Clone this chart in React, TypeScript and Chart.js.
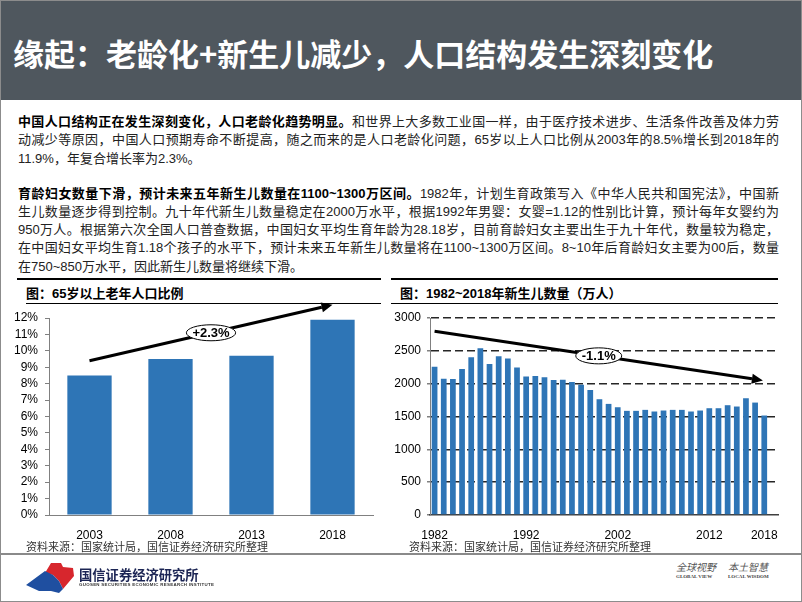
import React, { useEffect, useRef } from 'react';
import { Chart, registerables } from 'chart.js';

Chart.register(...registerables);

// ---------- data ----------
const agedYears = ['2003', '2008', '2013', '2018'];
const agedShare = [8.5, 9.5, 9.7, 11.9];
const agedTrendFrom: [number, number] = [0, 9.4];
const agedTrendTo: [number, number] = [3, 12.8];
const agedTrendLabel = '+2.3%';

const birthYears = [
  '1982', '1983', '1984', '1985', '1986', '1987', '1988', '1989', '1990', '1991',
  '1992', '1993', '1994', '1995', '1996', '1997', '1998', '1999', '2000', '2001',
  '2002', '2003', '2004', '2005', '2006', '2007', '2008', '2009', '2010', '2011',
  '2012', '2013', '2014', '2015', '2016', '2017', '2018',
];
const births = [
  2258, 2076, 2072, 2222, 2404, 2540, 2298, 2419, 2384, 2247,
  2111, 2116, 2096, 2056, 2061, 2025, 1985, 1904, 1763, 1692,
  1641, 1586, 1586, 1601, 1576, 1591, 1601, 1601, 1576, 1591,
  1626, 1626, 1672, 1652, 1778, 1712, 1515,
];
const birthTickYears = ['1982', '1992', '2002', '2012', '2018'];
const birthTrendFrom: [number, number] = [0, 2798];
const birthTrendTo: [number, number] = [35.85, 2049];
const birthTrendLabel = '-1.1%';

const titleText = '缘起：老龄化+新生儿减少，人口结构发生深刻变化';
const leftChartTitle = '图：65岁以上老年人口比例';
const rightChartTitle = '图：1982~2018年新生儿数量（万人）';
const sourceText = '资料来源：国家统计局，国信证券经济研究所整理';

type Line = { bold?: string; text: string; justify: boolean };
const para1: Line[] = [
  { bold: '中国人口结构正在发生深刻变化，人口老龄化趋势明显。', text: '和世界上大多数工业国一样，由于医疗技术进步、生活条件改善及体力劳', justify: true },
  { text: '动减少等原因，中国人口预期寿命不断提高，随之而来的是人口老龄化问题，65岁以上人口比例从2003年的8.5%增长到2018年的', justify: true },
  { text: '11.9%，年复合增长率为2.3%。', justify: false },
];
const para2: Line[] = [
  { bold: '育龄妇女数量下滑，预计未来五年新生儿数量在1100~1300万区间。', text: '1982年，计划生育政策写入《中华人民共和国宪法》，中国新', justify: true },
  { text: '生儿数量逐步得到控制。九十年代新生儿数量稳定在2000万水平，根据1992年男婴：女婴=1.12的性别比计算，预计每年女婴约为', justify: true },
  { text: '950万人。根据第六次全国人口普查数据，中国妇女平均生育年龄为28.18岁，目前育龄妇女主要出生于九十年代，数量较为稳定，', justify: true },
  { text: '在中国妇女平均生育1.18个孩子的水平下，预计未来五年新生儿数量将在1100~1300万区间。8~10年后育龄妇女主要为00后，数量', justify: true },
  { text: '在750~850万水平，因此新生儿数量将继续下滑。', justify: false },
];

// ---------- styles ----------
const NUM_FONT = '"Liberation Sans", Arial, sans-serif';
const TEXT_FONT = '"Liberation Sans", Arial, "Noto Sans CJK SC", sans-serif';
const CJK_FONT = '"Noto Sans CJK SC", "Liberation Sans", sans-serif';
const BAR_COLOR = '#2e75b6';
const AXIS_COLOR = '#808080';

type Trend = { from: [number, number]; to: [number, number]; label: string };

function trendPlugin(trend: Trend) {
  return {
    id: 'trendArrow',
    afterDatasetsDraw(chart: any) {
      const { ctx, scales } = chart;
      const x1 = scales.x.getPixelForValue(trend.from[0]);
      const y1 = scales.y.getPixelForValue(trend.from[1]);
      const x2 = scales.x.getPixelForValue(trend.to[0]);
      const y2 = scales.y.getPixelForValue(trend.to[1]);
      const ang = Math.atan2(y2 - y1, x2 - x1);
      const head = 11;
      const hw = 5;
      const bx = x2 - head * Math.cos(ang);
      const by = y2 - head * Math.sin(ang);
      ctx.save();
      ctx.strokeStyle = '#000';
      ctx.lineWidth = 3;
      ctx.beginPath();
      ctx.moveTo(x1, y1);
      ctx.lineTo(bx, by);
      ctx.stroke();
      ctx.fillStyle = '#000';
      ctx.beginPath();
      ctx.moveTo(x2, y2);
      ctx.lineTo(bx + hw * Math.sin(ang), by - hw * Math.cos(ang));
      ctx.lineTo(bx - hw * Math.sin(ang), by + hw * Math.cos(ang));
      ctx.closePath();
      ctx.fill();
      const mx = (x1 + x2) / 2;
      const my = (y1 + y2) / 2;
      ctx.font = `bold 13px ${NUM_FONT}`;
      const w = ctx.measureText(trend.label).width;
      ctx.beginPath();
      ctx.ellipse(mx, my, w / 2 + 6, 8, 0, 0, Math.PI * 2);
      ctx.fillStyle = '#fff';
      ctx.fill();
      ctx.lineWidth = 1;
      ctx.strokeStyle = '#000';
      ctx.stroke();
      ctx.fillStyle = '#000';
      ctx.textAlign = 'center';
      ctx.textBaseline = 'middle';
      ctx.fillText(trend.label, mx, my + 0.5);
      ctx.restore();
    },
  };
}

function ChartCanvas({ makeConfig, left, top, width, height }: any) {
  const ref = useRef<HTMLCanvasElement>(null);
  useEffect(() => {
    const chart = new Chart(ref.current as HTMLCanvasElement, makeConfig());
    return () => chart.destroy();
  }, []);
  return (
    <canvas
      ref={ref}
      width={width}
      height={height}
      style={{ position: 'absolute', left, top, width, height, display: 'block' }}
    />
  );
}

function agedConfig(): any {
  return {
    type: 'bar',
    data: {
      labels: agedYears,
      datasets: [
        {
          data: agedShare,
          backgroundColor: BAR_COLOR,
          barPercentage: 0.547,
          categoryPercentage: 1,
        },
      ],
    },
    options: {
      animation: false,
      responsive: false,
      devicePixelRatio: 1,
      layout: { padding: { left: 0, right: 18, top: 27, bottom: 0 } },
      plugins: { legend: { display: false }, tooltip: { enabled: false } },
      scales: {
        x: {
          grid: { display: false },
          border: { display: true, color: AXIS_COLOR, width: 1 },
          ticks: { color: '#000', font: { family: NUM_FONT, size: 12 }, padding: 5, maxRotation: 0 },
          afterFit: (s: any) => { s.height = 26; },
        },
        y: {
          min: 0,
          max: 12,
          ticks: {
            stepSize: 1,
            autoSkip: false,
            color: '#000',
            padding: 7,
            font: { family: NUM_FONT, size: 12 },
            callback: (v: any) => `${v}%`,
          },
          grid: { drawOnChartArea: false, drawTicks: true, tickLength: 4, color: AXIS_COLOR },
          border: { display: true, color: AXIS_COLOR, width: 1 },
          afterFit: (s: any) => { s.width = 48; },
        },
      },
    },
    plugins: [trendPlugin({ from: agedTrendFrom, to: agedTrendTo, label: agedTrendLabel })],
  };
}

function birthConfig(): any {
  const labels = [...birthYears, ''];
  return {
    type: 'bar',
    data: {
      labels,
      datasets: [
        {
          data: births,
          backgroundColor: BAR_COLOR,
          barPercentage: 0.625,
          categoryPercentage: 1,
        },
      ],
    },
    options: {
      animation: false,
      responsive: false,
      devicePixelRatio: 1,
      layout: { padding: { left: 0, right: 18, top: 27, bottom: 0 } },
      plugins: { legend: { display: false }, tooltip: { enabled: false } },
      scales: {
        x: {
          grid: { display: false },
          border: { display: true, color: '#404040', width: 1.5 },
          ticks: {
            color: '#000',
            font: { family: NUM_FONT, size: 12 },
            padding: 5,
            autoSkip: false,
            maxRotation: 0,
            minRotation: 0,
            callback: function (this: any, val: any) {
              const l = this.getLabelForValue(val);
              return birthTickYears.includes(l) ? l : '';
            },
          },
          afterFit: (s: any) => { s.height = 26; },
        },
        y: {
          min: 0,
          max: 3000,
          ticks: {
            stepSize: 500,
            autoSkip: false,
            color: '#000',
            padding: 6,
            font: { family: NUM_FONT, size: 12 },
            callback: (v: any) => String(v),
          },
          grid: {
            drawOnChartArea: true,
            drawTicks: true,
            tickLength: 3,
            tickColor: AXIS_COLOR,
            lineWidth: 1.5,
            color: (c: any) => (c.tick && c.tick.value === 0 ? 'rgba(0,0,0,0)' : '#262626'),
          },
          border: { display: true, color: AXIS_COLOR, width: 1, dash: [8, 4] },
          afterFit: (s: any) => { s.width = 44; },
        },
      },
    },
    plugins: [trendPlugin({ from: birthTrendFrom, to: birthTrendTo, label: birthTrendLabel })],
  };
}

function Paragraph({ lines, top }: { lines: Line[]; top: number }) {
  return (
    <div
      style={{
        position: 'absolute',
        left: 17,
        top,
        width: 761,
        fontFamily: TEXT_FONT,
        fontSize: 13,
        lineHeight: '18.3px',
        color: '#222',
      }}
    >
      {lines.map((ln, i) => (
        <div
          key={i}
          style={{
            height: 18.3,
            whiteSpace: 'nowrap',
            textAlign: ln.justify ? 'justify' : 'left',
            textAlignLast: ln.justify ? 'justify' : 'left',
          } as any}
        >
          {ln.bold ? <b style={{ color: '#000' }}>{ln.bold}</b> : null}
          {ln.text}
        </div>
      ))}
    </div>
  );
}

function Rule({ left, top, width, height, color }: any) {
  return <div style={{ position: 'absolute', left, top, width, height, background: color }} />;
}

export default function App() {
  return (
    <div
      style={{
        position: 'absolute',
        left: 0,
        top: 0,
        width: 802,
        height: 602,
        boxSizing: 'border-box',
        border: '1px solid #8c8c8c',
        background: '#fff',
        overflow: 'hidden',
      }}
    >
      {/* header */}
      <div style={{ position: 'absolute', left: 0, top: 0, width: 802, height: 99, background: '#4f575e' }} />
      <div
        style={{
          position: 'absolute',
          left: 12,
          top: 31,
          lineHeight: '42px',
          fontSize: 31,
          fontWeight: 'bold',
          color: '#fff',
          fontFamily: CJK_FONT,
          whiteSpace: 'nowrap',
        }}
      >
        {titleText}
      </div>

      <Paragraph lines={para1} top={112} />
      <Paragraph lines={para2} top={183.5} />

      {/* chart panel frames */}
      <Rule left={16} top={277} width={364} height={2} color="#000" />
      <Rule left={390} top={277} width={387} height={2} color="#000" />
      <Rule left={25} top={301.5} width={355} height={1.5} color="#000" />
      <Rule left={390} top={301.5} width={387} height={1.5} color="#000" />

      <div
        style={{
          position: 'absolute', left: 25, top: 283.5, lineHeight: '18px', fontSize: 13,
          fontWeight: 'bold', color: '#000', fontFamily: TEXT_FONT, whiteSpace: 'nowrap',
        }}
      >
        {leftChartTitle}
      </div>
      <div
        style={{
          position: 'absolute', left: 399, top: 283.5, lineHeight: '18px', fontSize: 13,
          fontWeight: 'bold', color: '#000', fontFamily: TEXT_FONT, whiteSpace: 'nowrap',
        }}
      >
        {rightChartTitle}
      </div>

      <ChartCanvas makeConfig={agedConfig} left={0} top={290} width={390} height={250} />
      <ChartCanvas makeConfig={birthConfig} left={385} top={290} width={410} height={250} />

      {/* sources */}
      <div
        style={{
          position: 'absolute', left: 25, top: 537.5, lineHeight: '15px', fontSize: 11,
          color: '#333', fontFamily: CJK_FONT, whiteSpace: 'nowrap',
        }}
      >
        {sourceText}
      </div>
      <div
        style={{
          position: 'absolute', left: 408, top: 537.5, lineHeight: '15px', fontSize: 11,
          color: '#333', fontFamily: CJK_FONT, whiteSpace: 'nowrap',
        }}
      >
        {sourceText}
      </div>

      {/* footer */}
      <Rule left={0} top={552} width={802} height={2} color="#8a8a8a" />
      <svg style={{ position: 'absolute', left: 0, top: 550 }} width={90} height={50} viewBox="0 0 90 50">
        <polygon points="44,22 50,12 60,12 62,16 72,17 73,25 62,38 58,30 52,24" fill="#d7262d" />
        <polygon points="25,34 44,20 52,24 58,30 62,38 58,42 50,40 38,40" fill="#1f4fa0" />
      </svg>
      <div
        style={{
          position: 'absolute', left: 78, top: 565, lineHeight: '18px', fontSize: 13.3,
          fontWeight: 'bold', color: '#1c2554', fontFamily: CJK_FONT, whiteSpace: 'nowrap',
        }}
      >
        国信证券经济研究所
      </div>
      <div
        style={{
          position: 'absolute', left: 78, top: 581, lineHeight: '5px', fontSize: 4.4,
          fontWeight: 'bold', color: '#333', fontFamily: NUM_FONT, whiteSpace: 'nowrap', letterSpacing: 0.3,
        }}
      >
        GUOSEN SECURITIES ECONOMIC RESEARCH INSTITUTE
      </div>
      <div
        style={{
          position: 'absolute', left: 675, top: 559, lineHeight: '14px', fontSize: 10,
          fontStyle: 'italic', color: '#555', fontFamily: CJK_FONT, whiteSpace: 'nowrap',
        }}
      >
        全球视野
      </div>
      <div
        style={{
          position: 'absolute', left: 727, top: 559, lineHeight: '14px', fontSize: 10,
          fontStyle: 'italic', color: '#555', fontFamily: CJK_FONT, whiteSpace: 'nowrap',
        }}
      >
        本土智慧
      </div>
      <div
        style={{
          position: 'absolute', left: 675, top: 572.5, lineHeight: '5px', fontSize: 5,
          fontWeight: 'bold', color: '#444', fontFamily: '"Liberation Serif", serif', whiteSpace: 'nowrap',
        }}
      >
        GLOBAL VIEW
      </div>
      <div
        style={{
          position: 'absolute', left: 727, top: 572.5, lineHeight: '5px', fontSize: 5,
          fontWeight: 'bold', color: '#444', fontFamily: '"Liberation Serif", serif', whiteSpace: 'nowrap',
        }}
      >
        LOCAL WISDOM
      </div>
    </div>
  );
}
